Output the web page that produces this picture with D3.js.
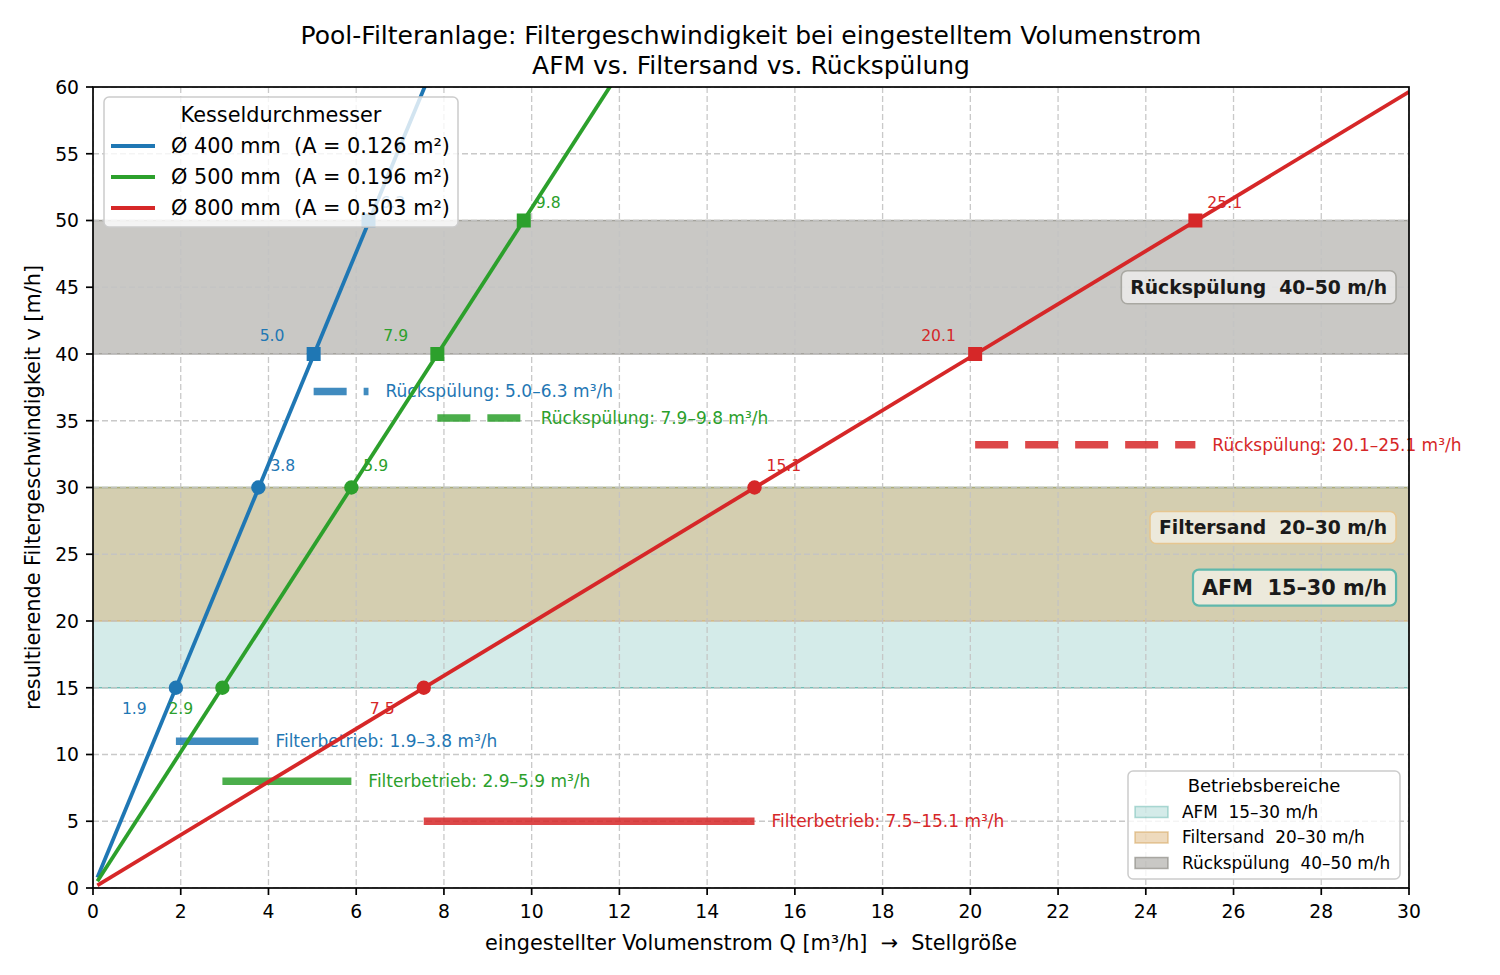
<!DOCTYPE html>
<html><head><meta charset="utf-8">
<script src="https://cdn.jsdelivr.net/npm/d3@7"></script>
<style>body{margin:0;background:#fff} svg{font-family:"DejaVu Sans",sans-serif} text{white-space:pre}</style>
</head><body><svg id="c" width="1500" height="975"></svg>
<script>
// ---------------- data ----------------
const seriesNames = ["Ø 400 mm  (A = 0.126 m²)", "Ø 500 mm  (A = 0.196 m²)", "Ø 800 mm  (A = 0.503 m²)"];
const seriesColors = ["#1f77b4", "#2ca02c", "#d62728"];
const lineQ = [0.1, 30];
const lineV400 = [0.79, 238.1];
const lineV500 = [0.51, 152.8];
const lineV800 = [0.20, 59.64];
const markerV = [15, 30, 40, 50];
const markerQ400 = [1.89, 3.77, 5.03, 6.28];
const markerQ500 = [2.95, 5.89, 7.85, 9.82];
const markerQ800 = [7.54, 15.08, 20.11, 25.13];
const markerLabels400 = ["1.9", "3.8", "5.0", "6.3"];
const markerLabels500 = ["2.9", "5.9", "7.9", "9.8"];
const markerLabels800 = ["7.5", "15.1", "20.1", "25.1"];
const filterBarV = [11, 8, 5];
const filterLabels = ["Filterbetrieb: 1.9–3.8 m³/h", "Filterbetrieb: 2.9–5.9 m³/h", "Filterbetrieb: 7.5–15.1 m³/h"];
const backwashBarV = [37.2, 35.2, 33.2];
const backwashLabels = ["Rückspülung: 5.0–6.3 m³/h", "Rückspülung: 7.9–9.8 m³/h", "Rückspülung: 20.1–25.1 m³/h"];
const bandNames = ["AFM  15–30 m/h", "Filtersand  20–30 m/h", "Rückspülung  40–50 m/h"];
const bandLo = [15, 20, 40];
const bandHi = [30, 30, 50];
const bandColors = ["#2a9d8f", "#d4a35a", "#78766e"];
const bandLabelV = [22.5, 27, 45];
const xTicks = d3.range(0, 31, 2);
const yTicks = d3.range(0, 61, 5);
const titleLines = ["Pool-Filteranlage: Filtergeschwindigkeit bei eingestelltem Volumenstrom", "AFM vs. Filtersand vs. Rückspülung"];
const xLabel = "eingestellter Volumenstrom Q [m³/h]  →  Stellgröße";
const yLabel = "resultierende Filtergeschwindigkeit v [m/h]";
const legend1Title = "Kesseldurchmesser";
const legend2Title = "Betriebsbereiche";

// ---------------- layout ----------------
const L = 93, R = 1409, T = 87, B = 888;
const x = d3.scaleLinear().domain([0, 30]).range([L, R]);
const y = d3.scaleLinear().domain([0, 60]).range([B, T]);
const svg = d3.select("#c");
svg.append("defs").append("clipPath").attr("id", "clip")
  .append("rect").attr("x", L).attr("y", T).attr("width", R - L).attr("height", B - T);
const plot = svg.append("g").attr("clip-path", "url(#clip)");

const lineVs = [lineV400, lineV500, lineV800];
const markerQs = [markerQ400, markerQ500, markerQ800];
const markerLabels = [markerLabels400, markerLabels500, markerLabels800];

// bands
const bandStyle = [
  {fo: 0.2, eo: 0.6, ew: 1.6},
  {fo: 0.4, eo: 0.6, ew: 1.6},
  {fo: 0.4, eo: 0.6, ew: 1.6}
];
bandNames.forEach((n, i) => {
  plot.append("rect").attr("x", L).attr("width", R - L)
    .attr("y", y(bandHi[i])).attr("height", y(bandLo[i]) - y(bandHi[i]))
    .attr("fill", bandColors[i]).attr("fill-opacity", bandStyle[i].fo);
});
bandNames.forEach((n, i) => {
  [bandLo[i], bandHi[i]].forEach(v => {
    plot.append("line").attr("x1", L).attr("x2", R).attr("y1", y(v)).attr("y2", y(v))
      .attr("stroke", bandColors[i]).attr("stroke-opacity", bandStyle[i].eo).attr("stroke-width", bandStyle[i].ew);
  });
});

// grid
const grid = plot.append("g").attr("stroke", "#c4c4c4").attr("stroke-width", 1.3).attr("stroke-dasharray", "6,3").attr("opacity", 0.9);
xTicks.forEach(t => grid.append("line").attr("x1", x(t)).attr("x2", x(t)).attr("y1", T).attr("y2", B));
yTicks.forEach(t => grid.append("line").attr("y1", y(t)).attr("y2", y(t)).attr("x1", L).attr("x2", R));

// range bars and labels
seriesNames.forEach((n, i) => {
  const q = markerQs[i];
  plot.append("line").attr("x1", x(q[0])).attr("x2", x(q[1])).attr("y1", y(filterBarV[i])).attr("y2", y(filterBarV[i]))
    .attr("stroke", seriesColors[i]).attr("stroke-width", 7.5).attr("stroke-opacity", 0.85);
  svg.append("text").attr("x", x(q[1]) + 17).attr("y", y(filterBarV[i])).attr("dy", "0.35em")
    .attr("font-size", 17).attr("fill", seriesColors[i]).text(filterLabels[i]);
  plot.append("line").attr("x1", x(q[2])).attr("x2", x(q[3])).attr("y1", y(backwashBarV[i])).attr("y2", y(backwashBarV[i]))
    .attr("stroke", seriesColors[i]).attr("stroke-width", 7.5).attr("stroke-opacity", 0.85).attr("stroke-dasharray", "33,17");
  svg.append("text").attr("x", x(q[3]) + 17).attr("y", y(backwashBarV[i])).attr("dy", "0.35em")
    .attr("font-size", 17).attr("fill", seriesColors[i]).text(backwashLabels[i]);
});

// lines
const linesG = svg.append("g").attr("clip-path", "url(#clip)");
seriesNames.forEach((n, i) => {
  const pts = lineQ.map((q, j) => [q, lineVs[i][j]]);
  linesG.append("path").attr("d", d3.line().x(d => x(d[0])).y(d => y(d[1]))(pts))
    .attr("fill", "none").attr("stroke", seriesColors[i]).attr("stroke-width", 3.8);
});

// markers + labels
const labelOff = [[-54, 21], [12, -22], [-54, -18], [12, -18]];
seriesNames.forEach((n, i) => {
  markerV.forEach((v, j) => {
    const cx = x(markerQs[i][j]), cy = y(v);
    if (j < 2) svg.append("circle").attr("cx", cx).attr("cy", cy).attr("r", 7.2).attr("fill", seriesColors[i]);
    else svg.append("rect").attr("x", cx - 7).attr("y", cy - 7).attr("width", 14).attr("height", 14).attr("fill", seriesColors[i]);
    svg.append("text").attr("x", cx + labelOff[j][0]).attr("y", cy + labelOff[j][1]).attr("dy", "0.35em")
      .attr("font-size", 15.6).attr("fill", seriesColors[i]).text(markerLabels[i][j]);
  });
});

// band labels
const boxStyle = [
  {fs: 20.8, stroke: "#5fb8ac", sw: 2.2, hh: 18},
  {fs: 18.75, stroke: "#e6c690", sw: 1.6, hh: 16},
  {fs: 18.75, stroke: "#a9a8a2", sw: 1.6, hh: 16.5}
];
bandNames.forEach((n, i) => {
  const g = svg.append("g");
  const cy = y(bandLabelV[i]);
  const rect = g.append("rect");
  const t = g.append("text").attr("x", x(29.5)).attr("y", cy).attr("dy", "0.35em")
    .attr("text-anchor", "end").attr("font-weight", "bold").attr("font-size", boxStyle[i].fs)
    .attr("fill", "#1a1a1a").text(n);
  const bb = t.node().getBBox();
  rect.attr("x", bb.x - 9).attr("width", bb.width + 18).attr("y", cy - boxStyle[i].hh).attr("height", 2 * boxStyle[i].hh)
    .attr("rx", 6).attr("fill", "#fff").attr("fill-opacity", 0.55)
    .attr("stroke", boxStyle[i].stroke).attr("stroke-width", boxStyle[i].sw);
});

// axes frame and ticks
svg.append("rect").attr("x", L).attr("y", T).attr("width", R - L).attr("height", B - T)
  .attr("fill", "none").attr("stroke", "#000").attr("stroke-width", 1.7);
xTicks.forEach(t => {
  svg.append("line").attr("x1", x(t)).attr("x2", x(t)).attr("y1", B).attr("y2", B + 7).attr("stroke", "#000").attr("stroke-width", 1.7);
  svg.append("text").attr("x", x(t)).attr("y", 918).attr("text-anchor", "middle").attr("font-size", 18.75).text(t);
});
yTicks.forEach(t => {
  svg.append("line").attr("x1", L - 7).attr("x2", L).attr("y1", y(t)).attr("y2", y(t)).attr("stroke", "#000").attr("stroke-width", 1.7);
  svg.append("text").attr("x", 79).attr("y", y(t)).attr("dy", "0.36em").attr("text-anchor", "end").attr("font-size", 18.75).text(t);
});
svg.append("text").attr("x", (L + R) / 2).attr("y", 950).attr("text-anchor", "middle").attr("font-size", 20.8).text(xLabel);
svg.append("text").attr("transform", `translate(40,${(T + B) / 2}) rotate(-90)`).attr("text-anchor", "middle").attr("font-size", 20.8).text(yLabel);
svg.append("text").attr("x", (L + R) / 2).attr("y", 44).attr("text-anchor", "middle").attr("font-size", 25).text(titleLines[0]);
svg.append("text").attr("x", (L + R) / 2).attr("y", 74).attr("text-anchor", "middle").attr("font-size", 25).text(titleLines[1]);

// legend 1
const lg1 = svg.append("g");
lg1.append("rect").attr("x", 104).attr("y", 97).attr("width", 354).attr("height", 130).attr("rx", 5)
  .attr("fill", "#fff").attr("fill-opacity", 0.8).attr("stroke", "#cccccc").attr("stroke-width", 1.5);
lg1.append("text").attr("x", 281).attr("y", 115).attr("dy", "0.35em").attr("text-anchor", "middle").attr("font-size", 20.8).text(legend1Title);
seriesNames.forEach((n, i) => {
  const yy = 146 + i * 31;
  lg1.append("line").attr("x1", 111).attr("x2", 155).attr("y1", yy).attr("y2", yy).attr("stroke", seriesColors[i]).attr("stroke-width", 3.8);
  lg1.append("text").attr("x", 171).attr("y", yy).attr("dy", "0.35em").attr("font-size", 20.8).text(n);
});

// legend 2
const lg2 = svg.append("g");
lg2.append("rect").attr("x", 1128).attr("y", 771).attr("width", 272).attr("height", 108).attr("rx", 5)
  .attr("fill", "#fff").attr("fill-opacity", 0.8).attr("stroke", "#cccccc").attr("stroke-width", 1.5);
lg2.append("text").attr("x", 1264).attr("y", 786).attr("dy", "0.35em").attr("text-anchor", "middle").attr("font-size", 18).text(legend2Title);
bandNames.forEach((n, i) => {
  const yy = 812 + i * 25.5;
  lg2.append("rect").attr("x", 1135).attr("y", yy - 5.5).attr("width", 33).attr("height", 11)
    .attr("fill", bandColors[i]).attr("fill-opacity", bandStyle[i].fo)
    .attr("stroke", bandColors[i]).attr("stroke-opacity", bandStyle[i].fo + 0.15).attr("stroke-width", 1.5);
  lg2.append("text").attr("x", 1182).attr("y", yy).attr("dy", "0.35em").attr("font-size", 16.9).text(n);
});
</script></body></html>
